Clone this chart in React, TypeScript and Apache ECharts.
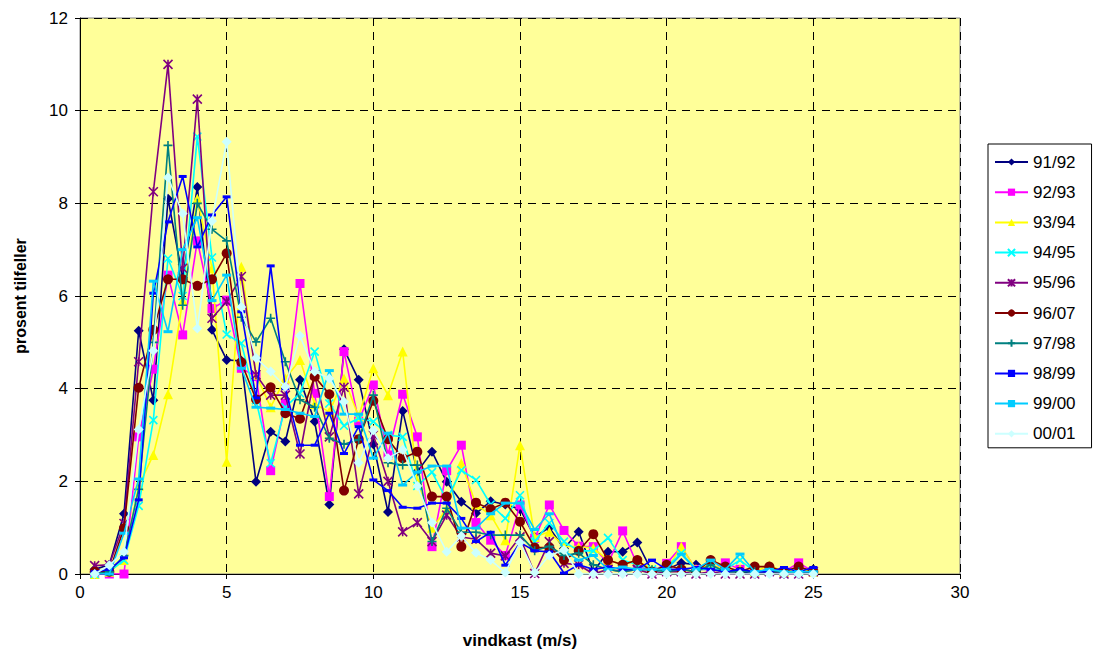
import React, { useEffect, useRef } from "react";
import * as echarts from "echarts";

const xValues = [0.5, 1, 1.5, 2, 2.5, 3, 3.5, 4, 4.5, 5, 5.5, 6, 6.5, 7, 7.5, 8, 8.5, 9, 9.5, 10,
  10.5, 11, 11.5, 12, 12.5, 13, 13.5, 14, 14.5, 15, 15.5, 16, 16.5, 17, 17.5, 18, 18.5, 19, 19.5, 20,
  20.5, 21, 21.5, 22, 22.5, 23, 23.5, 24, 24.5, 25];

const s9192 = [0.1, 0.2, 1.3, 5.25, 3.75, 8.1, 6.4, 8.35, 5.27, 4.62, 4.6, 1.99, 3.07, 2.86, 4.19, 3.29, 1.5, 4.85, 4.19, 2.8,
  1.34, 3.52, 2.21, 2.64, 1.99, 1.56, 1.31, 1.57, 1.5, 1.4, 0.8, 1.0, 0.55, 0.91, 0.05, 0.48, 0.48, 0.68, 0.05, 0.1,
  0.24, 0.2, 0.1, 0.05, 0.05, 0.0, 0.05, 0.0, 0.0, 0.1];
const s9293 = [0.0, 0.0, 0.0, 2.96, 4.42, 6.45, 5.16, 7.19, 5.73, 5.91, 4.44, 4.26, 2.23, 3.68, 6.27, 3.9, 1.67, 4.8, 3.3, 4.08,
  2.57, 3.88, 2.96, 0.59, 2.23, 2.78, 1.11, 0.73, 0.4, 1.49, 0.77, 1.49, 0.94, 0.6, 0.59, 0.23, 0.93, 0.2, 0.05, 0.23,
  0.59, 0.1, 0.1, 0.24, 0.1, 0.05, 0.1, 0.05, 0.24, 0.05];
const s9394 = [0.0, 0.05, 0.3, 1.9, 2.57, 3.88, 5.9, 8.1, 6.6, 2.42, 6.63, 4.3, 3.6, 4.22, 4.62, 3.67, 3.5, 4.22, 3.4, 4.44,
  3.86, 4.8, 2.0, 1.0, 1.4, 2.39, 1.5, 1.27, 0.73, 2.78, 0.8, 0.91, 0.6, 0.59, 0.56, 0.3, 0.2, 0.3, 0.1, 0.1,
  0.59, 0.1, 0.2, 0.1, 0.1, 0.05, 0.19, 0.05, 0.1, 0.05];
const s9495 = [0.0, 0.05, 0.3, 1.47, 3.32, 6.81, 6.0, 9.44, 6.83, 5.17, 4.98, 3.75, 2.39, 3.6, 3.9, 4.8, 3.68, 3.2, 3.36, 3.29,
  3.0, 2.96, 1.9, 2.2, 1.6, 2.24, 2.03, 1.5, 1.2, 1.7, 0.7, 1.1, 0.7, 0.5, 0.5, 0.78, 0.3, 0.2, 0.1, 0.15,
  0.45, 0.1, 0.1, 0.1, 0.3, 0.05, 0.05, 0.05, 0.05, 0.05];
const s9596 = [0.18, 0.2, 1.09, 4.58, 8.25, 11.0, 6.6, 10.25, 5.52, 5.88, 6.42, 4.3, 3.86, 3.86, 2.59, 4.3, 2.96, 4.03, 1.73, 3.0,
  2.0, 0.91, 1.11, 0.7, 1.27, 0.8, 0.75, 0.45, 0.39, 0.8, 0.01, 0.7, 0.23, 0.2, 0.0, 0.1, 0.05, 0.1, 0.0, 0.05,
  0.05, 0.0, 0.05, 0.0, 0.0, 0.0, 0.05, 0.0, 0.0, 0.05];
const s9607 = [0.05, 0.05, 0.99, 4.02, 5.27, 6.36, 6.36, 6.22, 6.36, 6.92, 4.57, 3.77, 4.03, 3.47, 3.35, 4.26, 3.88, 1.8, 2.91, 3.74,
  2.91, 2.5, 2.64, 1.67, 1.67, 0.59, 1.54, 1.4, 1.54, 1.13, 0.57, 0.57, 0.3, 0.5, 0.86, 0.3, 0.2, 0.3, 0.05, 0.2,
  0.1, 0.05, 0.3, 0.16, 0.05, 0.16, 0.16, 0.05, 0.16, 0.05];
const s9798 = [0.0, 0.05, 0.4, 1.83, 5.0, 9.25, 5.8, 8.0, 7.44, 7.19, 5.54, 5.01, 5.52, 4.58, 3.76, 3.6, 2.93, 2.8, 2.9, 3.86,
  2.4, 2.35, 2.35, 0.7, 1.42, 0.9, 0.9, 0.84, 0.84, 0.84, 0.5, 0.6, 0.4, 0.45, 0.2, 0.1, 0.05, 0.1, 0.09, 0.05,
  0.1, 0.05, 0.2, 0.05, 0.05, 0.05, 0.05, 0.05, 0.05, 0.05];
const s9899 = [0.05, 0.1, 0.35, 1.6, 6.06, 7.6, 8.58, 7.06, 7.75, 8.14, 5.66, 3.8, 6.65, 4.0, 2.78, 2.78, 3.47, 2.6, 3.18, 2.03,
  1.8, 1.44, 1.42, 1.53, 1.53, 1.2, 0.7, 0.9, 0.19, 0.68, 0.5, 0.48, 0.02, 0.2, 0.1, 0.15, 0.1, 0.1, 0.3, 0.1,
  0.1, 0.14, 0.1, 0.05, 0.1, 0.05, 0.05, 0.14, 0.05, 0.14];
const s9900 = [0.0, 0.0, 0.88, 2.05, 6.32, 5.23, 7.0, 7.69, 5.9, 6.45, 4.44, 3.6, 3.58, 3.55, 3.47, 3.4, 4.39, 3.45, 3.45, 2.5,
  3.04, 1.92, 2.2, 2.33, 2.33, 0.99, 0.99, 1.3, 1.53, 1.53, 0.96, 1.3, 0.5, 0.3, 0.4, 0.1, 0.15, 0.1, 0.1, 0.1,
  0.43, 0.1, 0.3, 0.1, 0.43, 0.05, 0.1, 0.05, 0.05, 0.05];
const s0001 = [0.0, 0.19, 0.48, 3.12, 4.82, 8.56, 7.78, 5.3, 7.62, 9.33, 5.76, 4.66, 4.37, 4.04, 5.14, 4.37, 4.22, 3.72, 2.4, 3.1,
  2.5, 2.68, 1.9, 1.11, 0.48, 0.82, 0.46, 0.3, 0.03, 0.68, 0.03, 0.4, 0.52, 0.0, 0.0, 0.0, 0.0, 0.0, 0.0, 0.0,
  0.0, 0.0, 0.0, 0.0, 0.0, 0.0, 0.0, 0.0, 0.0, 0.0];

const seriesNames = ["91/92", "92/93", "93/94", "94/95", "95/96", "96/07", "97/98", "98/99", "99/00", "00/01"];
const seriesValues = [s9192, s9293, s9394, s9495, s9596, s9607, s9798, s9899, s9900, s0001];
const seriesColors = ["#000080", "#FF00FF", "#FFFF00", "#00FFFF", "#800080", "#800000", "#008080", "#0000FF", "#00CCFF", "#CCFFFF"];
const seriesSymbols = [
  "diamond",
  "rect",
  "triangle",
  "path://M0,0L10,10M10,0L0,10",
  "path://M0,0L10,10M10,0L0,10M5,0L5,10",
  "circle",
  "path://M5,0L5,10M0,5L10,5",
  "rect",
  "rect",
  "diamond",
];
const seriesSymbolSizes: any[] = [10, 9, 10, 8, 9, 10, 9, [8, 3], [9, 3], 10];
const strokeOnly = [false, false, false, true, true, false, true, false, false, false];

const xTicks = [0, 5, 10, 15, 20, 25, 30];
const yTicks = [0, 2, 4, 6, 8, 10, 12];

const FONT = 'Arial, "Liberation Sans", sans-serif';

export default function App() {
  const ref = useRef<HTMLDivElement>(null);
  useEffect(() => {
    if (!ref.current) return;
    const chart = echarts.init(ref.current, null, { renderer: "svg" });
    const series = seriesNames.map((name, i) => ({
      name,
      type: "line",
      data: xValues.map((x, j) => [x, seriesValues[i][j]]),
      symbol: seriesSymbols[i],
      symbolSize: seriesSymbolSizes[i],
      showSymbol: true,
      lineStyle: { color: seriesColors[i], width: 1.6 },
      itemStyle: {
        color: strokeOnly[i] ? "rgba(0,0,0,0)" : seriesColors[i],
        borderColor: seriesColors[i],
        borderWidth: strokeOnly[i] ? 1.6 : 0,
        opacity: 1,
      },
      emphasis: { disabled: true },
      z: 2 + i,
    }));
    chart.setOption({
      animation: false,
      backgroundColor: "#FFFFFF",
      grid: {
        left: 80,
        top: 18,
        right: 141,
        bottom: 81,
        show: true,
        backgroundColor: "#FFFF99",
        borderColor: "#808080",
        borderWidth: 1,
      },
      legend: {
        orient: "vertical",
        left: 988,
        top: 144,
        data: seriesNames,
        itemWidth: 33,
        itemHeight: 9,
        itemGap: 10.2,
        padding: [8, 16, 4, 6],
        borderColor: "#000000",
        borderWidth: 1,
        backgroundColor: "#FFFFFF",
        textStyle: { fontFamily: FONT, fontSize: 17, color: "#000", lineHeight: 20 },
      },
      xAxis: {
        type: "value",
        min: 0,
        max: 30,
        interval: 5,
        name: "vindkast (m/s)",
        nameLocation: "middle",
        nameGap: 58,
        nameTextStyle: { fontFamily: FONT, fontSize: 17, fontWeight: "bold", color: "#000" },
        axisLine: { show: true, onZero: false, lineStyle: { color: "#000", width: 1 } },
        axisTick: { show: true, inside: false, length: 5, lineStyle: { color: "#000" } },
        axisLabel: {
          fontFamily: FONT,
          fontSize: 17,
          color: "#000",
          margin: 10,
          formatter: (v: number) => (xTicks.includes(v) ? String(v) : ""),
        },
        splitLine: { show: true, lineStyle: { color: "#000", type: [8, 6], width: 1 } },
      },
      yAxis: {
        type: "value",
        min: 0,
        max: 12,
        interval: 2,
        name: "prosent tilfeller",
        nameLocation: "middle",
        nameGap: 52,
        nameRotate: 90,
        nameTextStyle: { fontFamily: FONT, fontSize: 16, fontWeight: "bold", color: "#000" },
        axisLine: { show: true, onZero: false, lineStyle: { color: "#000", width: 1 } },
        axisTick: { show: true, inside: false, length: 5, lineStyle: { color: "#000" } },
        axisLabel: {
          fontFamily: FONT,
          fontSize: 17,
          color: "#000",
          margin: 12,
          formatter: (v: number) => (yTicks.includes(v) ? String(v) : ""),
        },
        splitLine: { show: true, lineStyle: { color: "#000", type: [8, 6], width: 1 } },
      },
      series,
    });
    return () => chart.dispose();
  }, []);
  return (
    <div
      ref={ref}
      style={{ position: "fixed", left: 0, top: 0, width: 1101, height: 655, background: "#fff" }}
    />
  );
}
